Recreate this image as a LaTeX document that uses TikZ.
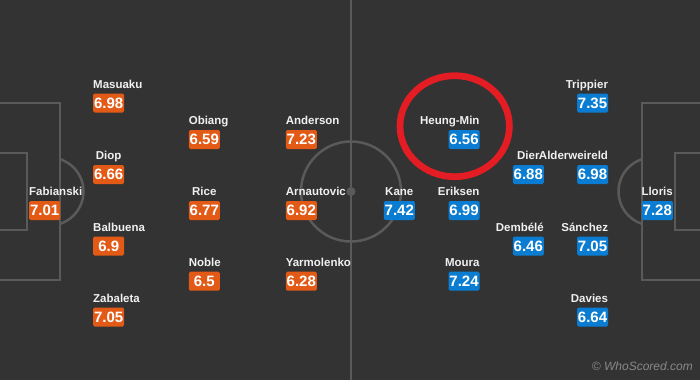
\documentclass[tikz,border=0pt]{standalone}
\usepackage{fontspec}
\usepackage{xcolor}
\usetikzlibrary{calc,positioning}
\newfontfamily\wsfont{Liberation Sans}

\definecolor{pitchbg}{RGB}{51,51,51}
\definecolor{pitchline}{RGB}{90,90,90}
\definecolor{hamorange}{RGB}{226,90,22}
\definecolor{spursblue}{RGB}{10,125,210}
\definecolor{circlered}{RGB}{228,28,36}
\definecolor{namewhite}{RGB}{240,240,240}

\begin{document}
\begin{tikzpicture}[x=1pt, y=-1pt,
    pitch/.style={draw=pitchline, line width=2.5pt},
    rating/.style={rounded corners=1.5pt, text=white, inner sep=0pt,
        minimum width=31pt, minimum height=19pt,
        font=\wsfont\bfseries\fontsize{15}{15}\selectfont},
    home/.style={rating, fill=hamorange},
    away/.style={rating, fill=spursblue},
    pname/.style={text=namewhite, inner sep=0pt,
        font=\wsfont\bfseries\fontsize{11.5}{12}\selectfont},
    lname/.style={pname, anchor=base west},
    rname/.style={pname, anchor=base east},
    cname/.style={pname, anchor=base}]
    			% Background
    			\useasboundingbox (0,0) rectangle (700,380);
    			\fill[pitchbg] (0,0) rectangle (700,380);
    			
    			% Parameters
    			\def\midx{351}   % halfway line
    			\def\midy{191.5} % centre spot height
    			\def\up{15pt}    % name baseline above badge centre
    			
    			% Halfway line, centre circle and spot
    			\draw[pitch] (\midx,0) -- (\midx,380);
    			\draw[pitch] (\midx,\midy) circle[radius=50];
    			\fill[pitchline] (\midx,\midy) circle[radius=4.5];
    			
    			% Left penalty area
    			\draw[pitch] (0,103) -- (60,103) -- (60,280) -- (0,280);
    			\draw[pitch] (0,153) -- (27,153) -- (27,230) -- (0,230);
    			\draw[pitch] (49.5,\midy) ++(-72:34) arc[start angle=-72, end angle=72, radius=34];
    			
    			% Right penalty area
    			\draw[pitch] (700,103) -- (642,103) -- (642,280) -- (700,280);
    			\draw[pitch] (700,153) -- (675,153) -- (675,230) -- (700,230);
    			\draw[pitch] (652.5,\midy) ++(108:34) arc[start angle=108, end angle=252, radius=34];
    			
    			% West Ham
    			\node[home] (fabianski) at (44.7,210.5) {7.01};
    			\node[lname] (fabianskiL) at ([yshift=\up]fabianski.west) {Fabianski};
    			\node[home] (masuaku) at (108.7,103) {6.98};
    			\node[lname] (masuakuL) at ([yshift=\up]masuaku.west) {Masuaku};
    			\node[home] (diop) at (108.7,174.5) {6.66};
    			\node[cname] (diopL) at ([yshift=\up]diop.center) {Diop};
    			\node[home] (balbuena) at (108.7,246) {6.9};
    			\node[lname] (balbuenaL) at ([yshift=\up]balbuena.west) {Balbuena};
    			\node[home] (zabaleta) at (108.7,317) {7.05};
    			\node[lname] (zabaletaL) at ([yshift=\up]zabaleta.west) {Zabaleta};
    			\node[home] (obiang) at (204.3,139.5) {6.59};
    			\node[lname] (obiangL) at ([yshift=\up]obiang.west) {Obiang};
    			\node[home] (rice) at (204.3,210.5) {6.77};
    			\node[cname] (riceL) at ([yshift=\up]rice.center) {Rice};
    			\node[home] (noble) at (204.3,281.2) {6.5};
    			\node[lname] (nobleL) at ([yshift=\up]noble.west) {Noble};
    			\node[home] (anderson) at (301.3,139.5) {7.23};
    			\node[lname] (andersonL) at ([yshift=\up]anderson.west) {Anderson};
    			\node[home] (arnautovic) at (301.3,210.5) {6.92};
    			\node[lname] (arnautovicL) at ([yshift=\up]arnautovic.west) {Arnautovic};
    			\node[home] (yarmolenko) at (301.3,281.2) {6.28};
    			\node[lname] (yarmolenkoL) at ([yshift=\up]yarmolenko.west) {Yarmolenko};
    			
    			% Tottenham
    			\node[away] (lloris) at (657.3,210.5) {7.28};
    			\node[rname] (llorisL) at ([yshift=\up]lloris.east) {Lloris};
    			\node[away] (trippier) at (592.5,103) {7.35};
    			\node[rname] (trippierL) at ([yshift=\up]trippier.east) {Trippier};
    			\node[away] (alderweireld) at (592.5,174.5) {6.98};
    			\node[rname] (alderweireldL) at ([yshift=\up]alderweireld.east) {Alderweireld};
    			\node[away] (sanchez) at (592.5,246) {7.05};
    			\node[rname] (sanchezL) at ([yshift=\up]sanchez.east) {Sánchez};
    			\node[away] (davies) at (592.5,317) {6.64};
    			\node[rname] (daviesL) at ([yshift=\up]davies.east) {Davies};
    			\node[away] (dier) at (528.3,174.5) {6.88};
    			\node[cname] (dierL) at ([yshift=\up]dier.center) {Dier};
    			\node[away] (dembele) at (528.3,246) {6.46};
    			\node[rname] (dembeleL) at ([yshift=\up]dembele.east) {Dembélé};
    			\node[away] (heungmin) at (464,139.5) {6.56};
    			\node[rname] (heungminL) at ([yshift=\up]heungmin.east) {Heung-Min};
    			\node[away] (eriksen) at (464,210.5) {6.99};
    			\node[rname] (eriksenL) at ([yshift=\up]eriksen.east) {Eriksen};
    			\node[away] (moura) at (464,281.2) {7.24};
    			\node[rname] (mouraL) at ([yshift=\up]moura.east) {Moura};
    			\node[away] (kane) at (399.3,210.5) {7.42};
    			\node[cname] (kaneL) at ([yshift=\up]kane.center) {Kane};
    			
    			% Highlight round Heung-Min
    			\draw[circlered, line width=6.7pt] (454.7,126.2) ellipse[x radius=54.7, y radius=50.5];
    			
    			% Watermark
    			\node[anchor=base east, inner sep=0pt, text=white!42!pitchbg,
    			    font=\wsfont\itshape\fontsize{12}{12}\selectfont] (credit) at (693,370) {\textcopyright{} WhoScored.com};
    		\end{tikzpicture}
\end{document}
